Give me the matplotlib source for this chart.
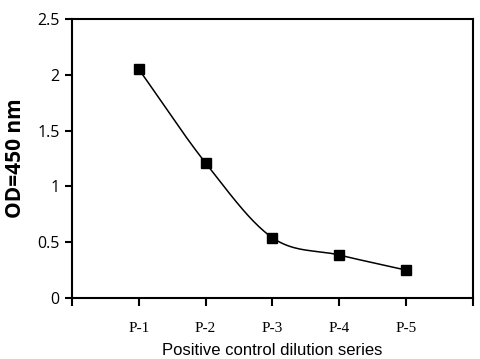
import matplotlib
matplotlib.use("Agg")
import matplotlib.pyplot as plt
import numpy as np

# data
labels = ["P-1", "P-2", "P-3", "P-4", "P-5"]
od_values = [2.05, 1.21, 0.54, 0.385, 0.25]


def catmull_rom(xs, ys, n=40):
    # smooth curve through the points, like a spreadsheet "smoothed line"
    xs = np.asarray(xs, float)
    ys = np.asarray(ys, float)
    px = np.concatenate([[2 * xs[0] - xs[1]], xs, [2 * xs[-1] - xs[-2]]])
    py = np.concatenate([[2 * ys[0] - ys[1]], ys, [2 * ys[-1] - ys[-2]]])
    out_x, out_y = [], []
    t = np.linspace(0, 1, n)
    for i in range(1, len(px) - 2):
        for p, out in ((px, out_x), (py, out_y)):
            p0, p1, p2, p3 = p[i - 1], p[i], p[i + 1], p[i + 2]
            seg = 0.5 * ((2 * p1) + (-p0 + p2) * t
                         + (2 * p0 - 5 * p1 + 4 * p2 - p3) * t ** 2
                         + (-p0 + 3 * p1 - 3 * p2 + p3) * t ** 3)
            out.extend(seg)
    return np.array(out_x), np.array(out_y)


x = np.arange(1, len(labels) + 1)

fig, ax = plt.subplots(figsize=(4.8, 3.59), dpi=100)
fig.subplots_adjust(left=0.15, right=0.985, top=0.947, bottom=0.17)

sx, sy = catmull_rom(x, od_values)
ax.plot(sx, sy, color="black", linewidth=1.1)
ax.plot(x, od_values, linestyle="none", marker="s", markersize=7.2, color="black")

ax.set_xlim(0, 6)
ax.set_ylim(0, 2.5)
ax.set_xticks(range(0, 7))
ax.set_xticklabels([""] + labels + [""], fontfamily="Liberation Serif", fontsize=11)
ax.set_yticks([0, 0.5, 1, 1.5, 2, 2.5])
ax.set_yticklabels(["0", "0.5", "1", "1.5", "2", "2.5"], fontfamily="Open Sans", fontsize=11.5)

ax.tick_params(direction="out", length=5, width=1.5, pad=4)
ax.tick_params(axis="x", length=6, pad=11)
for sp in ax.spines.values():
    sp.set_linewidth(1.5)

ax.set_ylabel("OD=450 nm", fontfamily="Open Sans", fontweight="bold", fontsize=15, labelpad=8)
ax.set_xlabel("Positive control dilution series", fontfamily="Liberation Sans", fontsize=12, labelpad=6)

fig.savefig("out.png", dpi=100)
